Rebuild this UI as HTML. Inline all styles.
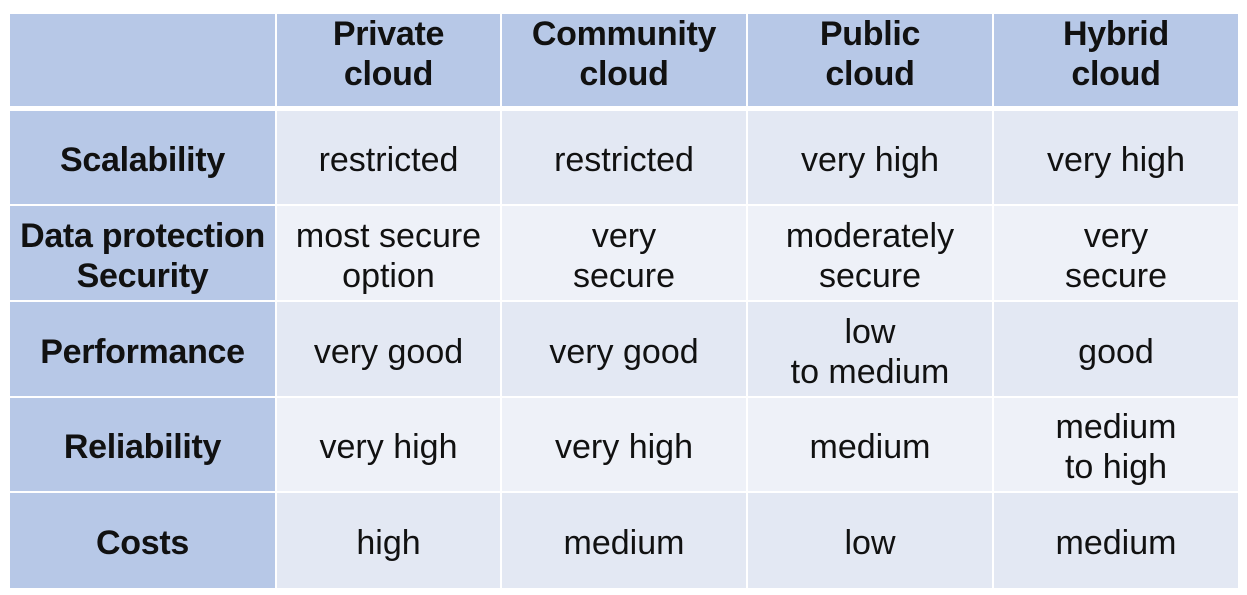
<!DOCTYPE html>
<html><head><style>
body{margin:0;width:1247px;height:595px;background:#fff;font-family:"Liberation Sans",Arial,sans-serif;position:relative;overflow:hidden}
.c{position:absolute;display:flex;align-items:center;justify-content:center;text-align:center;font-size:34px;line-height:40px;color:#111;box-sizing:border-box;padding-top:5px}
.h{background:#b7c8e7;font-weight:bold;font-size:34px;letter-spacing:-0.3px}
.t{padding-top:0;padding-bottom:12px}
.d{background:#e3e8f3}
.l{background:#eef1f8}
</style></head><body>
<div class="c h t" style="left:10px;top:14px;width:265px;height:92px"></div>
<div class="c h t" style="left:277px;top:14px;width:223px;height:92px">Private<br>cloud</div>
<div class="c h t" style="left:502px;top:14px;width:244px;height:92px">Community<br>cloud</div>
<div class="c h t" style="left:748px;top:14px;width:244px;height:92px">Public<br>cloud</div>
<div class="c h t" style="left:994px;top:14px;width:244px;height:92px">Hybrid<br>cloud</div>

<div class="c h" style="left:10px;top:111px;width:265px;height:93px">Scalability</div>
<div class="c d" style="left:277px;top:111px;width:223px;height:93px">restricted</div>
<div class="c d" style="left:502px;top:111px;width:244px;height:93px">restricted</div>
<div class="c d" style="left:748px;top:111px;width:244px;height:93px">very high</div>
<div class="c d" style="left:994px;top:111px;width:244px;height:93px">very high</div>

<div class="c h" style="left:10px;top:206px;width:265px;height:94px">Data protection<br>Security</div>
<div class="c l" style="left:277px;top:206px;width:223px;height:94px">most secure<br>option</div>
<div class="c l" style="left:502px;top:206px;width:244px;height:94px">very<br>secure</div>
<div class="c l" style="left:748px;top:206px;width:244px;height:94px">moderately<br>secure</div>
<div class="c l" style="left:994px;top:206px;width:244px;height:94px">very<br>secure</div>

<div class="c h" style="left:10px;top:302px;width:265px;height:94px">Performance</div>
<div class="c d" style="left:277px;top:302px;width:223px;height:94px">very good</div>
<div class="c d" style="left:502px;top:302px;width:244px;height:94px">very good</div>
<div class="c d" style="left:748px;top:302px;width:244px;height:94px">low<br>to medium</div>
<div class="c d" style="left:994px;top:302px;width:244px;height:94px">good</div>

<div class="c h" style="left:10px;top:398px;width:265px;height:93px">Reliability</div>
<div class="c l" style="left:277px;top:398px;width:223px;height:93px">very high</div>
<div class="c l" style="left:502px;top:398px;width:244px;height:93px">very high</div>
<div class="c l" style="left:748px;top:398px;width:244px;height:93px">medium</div>
<div class="c l" style="left:994px;top:398px;width:244px;height:93px">medium<br>to high</div>

<div class="c h" style="left:10px;top:493px;width:265px;height:95px">Costs</div>
<div class="c d" style="left:277px;top:493px;width:223px;height:95px">high</div>
<div class="c d" style="left:502px;top:493px;width:244px;height:95px">medium</div>
<div class="c d" style="left:748px;top:493px;width:244px;height:95px">low</div>
<div class="c d" style="left:994px;top:493px;width:244px;height:95px">medium</div>
</body></html>
